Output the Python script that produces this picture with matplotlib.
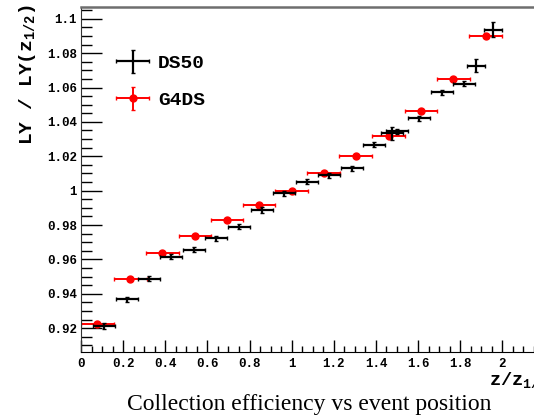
import numpy as np
import matplotlib.pyplot as plt
from matplotlib.ticker import MultipleLocator, FormatStrFormatter
from matplotlib.legend_handler import HandlerErrorbar

## --- Data ---
# DS50 measurement: light yield normalised to LY at z_1/2
z_ds50 = [0.111, 0.217, 0.324, 0.429, 0.538, 0.642, 0.750, 0.858, 0.963, 1.071,
          1.178, 1.285, 1.391, 1.474, 1.498, 1.604, 1.712, 1.819, 1.875, 1.957]
ly_ds50 = [0.9213, 0.9369, 0.9487, 0.9617, 0.9656, 0.9724, 0.9791, 0.9888, 0.9986, 1.0053,
           1.0090, 1.0131, 1.0267, 1.0335, 1.0345, 1.0422, 1.0571, 1.0622, 1.0728, 1.0936]
zerr_ds50 = [0.052] * 18 + [0.043, 0.043]
lyerr_ds50 = [0.0015] * 13 + [0.0038, 0.0015, 0.0015, 0.0015, 0.0015, 0.0040, 0.0044]

# G4DS simulation
z_g4ds = [0.077, 0.233, 0.386, 0.541, 0.693, 0.845, 1.0, 1.153, 1.304, 1.460,
          1.614, 1.767, 1.922]
ly_g4ds = [0.9227, 0.9485, 0.9636, 0.9739, 0.9828, 0.9919, 1.0, 1.0102, 1.0203, 1.0319,
           1.0465, 1.0651, 1.0901]
zerr_g4ds = [0.078] * 13
lyerr_g4ds = [0.001] * 13

## --- Style ---
plt.rcParams['font.family'] = ['Liberation Mono', 'DejaVu Sans Mono']
plt.rcParams['font.weight'] = 'bold'
plt.rcParams['mathtext.fontset'] = 'custom'
plt.rcParams['mathtext.rm'] = 'Liberation Mono:bold'
plt.rcParams['mathtext.default'] = 'rm'

W, H = 534, 419
fig = plt.figure(figsize=(W / 100, H / 100), dpi=100)
x0, x1, y0, y1 = 81, 544.5, 6.7, 352.3
ax = fig.add_axes([x0 / W, 1 - y1 / H, (x1 - x0) / W, (y1 - y0) / H])

## --- Plot ---
ax.errorbar(z_g4ds, ly_g4ds, xerr=zerr_g4ds, yerr=lyerr_g4ds, fmt='o', color='red',
            ms=5, elinewidth=1.4, capsize=1.5, label='G4DS', zorder=2)
ax.errorbar(z_ds50, ly_ds50, xerr=zerr_ds50, yerr=lyerr_ds50, fmt='none', color='black',
            elinewidth=1.6, capsize=1.5, label='DS50', zorder=3)

ax.set_xlim(0, 2.2)
ax.set_ylim(0.906, 1.107)

ax.xaxis.set_major_locator(MultipleLocator(0.2))
ax.xaxis.set_minor_locator(MultipleLocator(0.05))
ax.yaxis.set_major_locator(MultipleLocator(0.02))
ax.yaxis.set_minor_locator(MultipleLocator(0.005))
ax.xaxis.set_major_formatter(FormatStrFormatter('%g'))
ax.yaxis.set_major_formatter(FormatStrFormatter('%g'))
ax.tick_params(which='both', direction='in', top=False, right=False, labelsize=9)
ax.tick_params(axis='y', which='major', length=15, width=1)
ax.tick_params(axis='y', which='minor', length=8, width=1)
ax.tick_params(axis='x', which='major', length=9, width=1)
ax.tick_params(axis='x', which='minor', length=4, width=1)
ax.tick_params(axis='x', pad=4)
ax.tick_params(axis='y', pad=3)
ax.spines['top'].set_color('#6e6e6e')
ax.spines['top'].set_linewidth(1.8)
ax.spines['left'].set_color('#333333')

handles, labels = ax.get_legend_handles_labels()
ax.legend(handles[::-1], labels[::-1], loc='upper left', bbox_to_anchor=(0.038, 0.912),
          frameon=False, fontsize=14, handlelength=1.7, labelspacing=1.0,
          handletextpad=0.45,
          handler_map={type(handles[0]): HandlerErrorbar(xerr_size=0.85, yerr_size=0.6)})

fig.text(27 / W, 1 - 4 / H, r'LY / LY(z$_{1/2}$)', rotation=90, ha='center', va='top',
         fontsize=14)
fig.text(489 / W, 1 - 385.5 / H, r'z/z$_{1/2}$', ha='left', va='baseline', fontsize=13.5)
fig.text(309 / W, 1 - 404 / H, 'Collection efficiency vs event position',
         family='Liberation Serif', weight='normal', fontsize=17, ha='center', va='center')

fig.savefig('out.png', dpi=100)
